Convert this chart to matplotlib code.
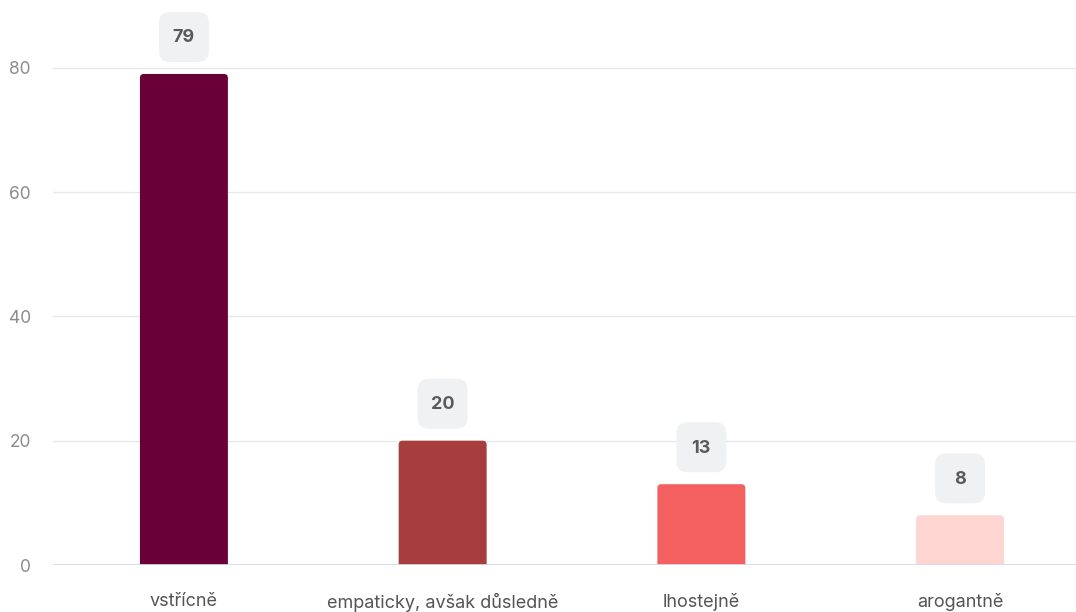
import matplotlib
matplotlib.use('Agg')
import matplotlib.pyplot as plt
from matplotlib.patches import FancyBboxPatch
from matplotlib.transforms import IdentityTransform

plt.rcParams['font.family'] = ['Inter', 'DejaVu Sans']

# data
categories = ['vstřícně', 'empaticky, avšak důsledně', 'lhostejně', 'arogantně']
values = [79, 20, 13, 8]
colors = ['#6a0038', '#a83d3d', '#f45f60', '#fed5d0']
yticks = [0, 20, 40, 60, 80]

W, H, DPI = 1076, 612, 100
fig = plt.figure(figsize=(W / DPI, H / DPI), dpi=DPI)
ax = fig.add_axes([53 / W, 47 / H, (W - 53) / W, 565 / H])

x = list(range(len(categories)))
bar_w = 0.34
bars = ax.bar(x, values, width=bar_w, color=colors, zorder=3)

ax.set_xlim(-0.506, 3.448)
ax.set_ylim(0, 90.9)

# rounded tops: swap each bar for a rounded patch (bottom corners clipped by axes)
px_x = 1 / 258.67
px_y = 1 / 6.2125
asp = px_y / px_x
for rect, c in zip(bars, colors):
    x0, w, h = rect.get_x(), rect.get_width(), rect.get_height()
    rect.set_visible(False)
    r = 4 * px_x
    ax.add_patch(FancyBboxPatch((x0 + r, 0), w - 2 * r, h - r * asp,
                                boxstyle=f'round,pad={r},rounding_size={r}',
                                mutation_aspect=asp,
                                facecolor=c, edgecolor='none', zorder=3))

# grid
for t in yticks[1:]:
    ax.axhline(t, color='#e6e8ec', lw=1, zorder=1)
ax.axhline(0, color='#d3dae8', lw=2, zorder=4)

for s in ax.spines.values():
    s.set_visible(False)
ax.set_yticks(yticks)
ax.set_yticklabels([str(t) for t in yticks], color='#8c8c8c', fontsize=12.5)
ax.set_xticks(x)
ax.set_xticklabels(categories, color='#555555', fontsize=13)
ax.tick_params(axis='y', length=0, pad=16)
ax.tick_params(axis='x', length=0, pad=20)

# value label boxes (fixed pixel size)
fig.canvas.draw()
for xi, v in zip(x, values):
    cx, cy = ax.transData.transform((xi, v))
    cy = cy + 37
    bw, bh = 50, 50
    box = FancyBboxPatch((cx - bw / 2 + 10, cy - bh / 2 + 10), bw - 20, bh - 20,
                         boxstyle='round,pad=10,rounding_size=11',
                         transform=IdentityTransform(),
                         facecolor='#f0f1f2', edgecolor='none', zorder=5)
    fig.patches.append(box)
    box.set_figure(fig)
    fig.text(cx / W, (cy - 1) / H, str(v), ha='center', va='center',
             fontsize=13, fontweight='bold', color='#5a5a5a', zorder=6)

fig.savefig('out.png', dpi=DPI)
